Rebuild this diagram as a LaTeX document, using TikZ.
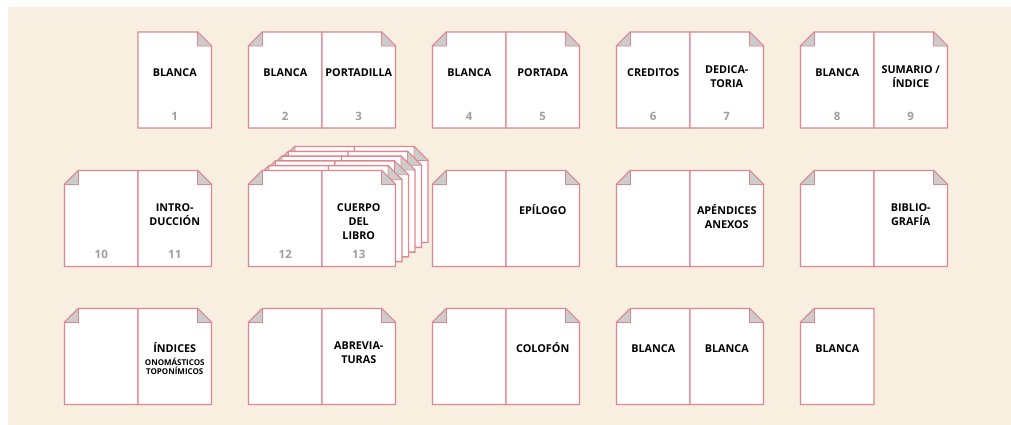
\documentclass[tikz,border=0pt]{standalone}
\usepackage{fontspec}
\setmainfont{Open Sans}
\usetikzlibrary{positioning}

\definecolor{paper}{RGB}{248,239,224}
\definecolor{edge}{RGB}{224,134,143}
\definecolor{flap}{RGB}{204,204,204}
\definecolor{numgray}{RGB}{158,158,158}

\tikzset{
	sheet/.style={fill=white, draw=edge, line width=1.1pt},
	fold/.style={fill=flap, draw=edge, line width=0.5pt},
	title/.style={anchor=north, inner sep=0pt, align=center,
		font=\bfseries\fontsize{8.1}{10.5}\selectfont,
		execute at begin node={\rule{0pt}{8pt}}},
	subtitle/.style={anchor=north, inner sep=0pt, align=center,
		font=\bfseries\fontsize{6}{6.75}\selectfont,
		execute at begin node={\rule{0pt}{4.5pt}}},
	pagenum/.style={inner sep=0pt, text=numgray,
		font=\bfseries\fontsize{8.6}{10}\selectfont}
}

% one page, top left corner at (#1,#2), folded corner on the left / right
\newcommand{\pageL}[2]{%
	\draw[sheet] ({#1+14},{#2}) -- ({#1+73.5},{#2}) -- ({#1+73.5},{#2+96}) -- ({#1},{#2+96}) -- ({#1},{#2+14}) -- cycle;
	\draw[fold] ({#1+14},{#2}) -- ({#1+14},{#2+14}) -- ({#1},{#2+14}) -- cycle;}
\newcommand{\pageR}[2]{%
	\draw[sheet] ({#1},{#2}) -- ({#1+59.5},{#2}) -- ({#1+73.5},{#2+14}) -- ({#1+73.5},{#2+96}) -- ({#1},{#2+96}) -- cycle;
	\draw[fold] ({#1+59.5},{#2}) -- ({#1+59.5},{#2+14}) -- ({#1+73.5},{#2+14}) -- cycle;}
\newcommand{\spread}[2]{\pageL{#1}{#2}\pageR{#1+73.5}{#2}}

\begin{document}
\begin{tikzpicture}[x=0.75pt, y=-0.75pt]
	\useasboundingbox (0,0) rectangle (1011,425);
	\fill[white] (0,0) rectangle (1011,425);
	\fill[paper] (8,7) rectangle (1011,425);

	% Pages for row 1
	\pageR{138}{32}
	\spread{248.5}{32}
	\spread{432.5}{32}
	\spread{616.5}{32}
	\spread{800.5}{32}

	% Pages for row 2 (stack behind 12-13)
	\spread{64.5}{170.5}
	\foreach \k in {5,...,1} {\spread{248.5+6.5*\k}{170.5-4.8*\k}}
	\spread{248.5}{170.5}
	\spread{432.5}{170.5}
	\spread{616.5}{170.5}
	\spread{800.5}{170.5}

	% Pages for row 3
	\spread{64.5}{308.5}
	\spread{248.5}{308.5}
	\spread{432.5}{308.5}
	\spread{616.5}{308.5}
	\pageL{800.5}{308.5}

	% Labels for row 1
	\node[title] (t1) at (174.75,65.3) {BLANCA};
	\node[title] (t2) at (285.25,65.3) {BLANCA};
	\node[title] (t3) at (358.75,65.3) {PORTADILLA};
	\node[title] (t4) at (469.25,65.3) {BLANCA};
	\node[title] (t5) at (542.75,65.3) {PORTADA};
	\node[title] (t6) at (653.25,65.3) {CREDITOS};
	\node[title] (t7) at (726.75,65.3) {DEDICA-\\TORIA};
	\node[title] (t8) at (837.25,65.3) {BLANCA};
	\node[title] (t9) at (910.75,65.3) {SUMARIO /\\ÍNDICE};

	% Labels for row 2
	\node[title] (t11) at (174.75,203.8) {INTRO-\\DUCCIÓN};
	\node[title] (t13) at (358.75,203.8) {CUERPO\\DEL\\LIBRO};
	\node[title] (t15) at (542.75,203.8) {EPÍLOGO};
	\node[title] (t17) at (726.75,203.8) {APÉNDICES\\ANEXOS};
	\node[title] (t19) at (910.75,203.8) {BIBLIO-\\GRAFÍA};

	% Labels for row 3
	\node[title] (t21) at (174.75,341.8) {ÍNDICES};
	\node[subtitle] (t21b) at (174.75,358) {ONOMÁSTICOS\\TOPONÍMICOS};
	\node[title] (t23) at (358.75,341.8) {ABREVIA-\\TURAS};
	\node[title] (t25) at (542.75,341.8) {COLOFÓN};
	\node[title] (t26) at (653.25,341.8) {BLANCA};
	\node[title] (t27) at (726.75,341.8) {BLANCA};
	\node[title] (t28) at (837.25,341.8) {BLANCA};

	% Page numbers
	\node[pagenum] (n1) at (174.75,116) {1};
	\node[pagenum] (n2) at (285.25,116) {2};
	\node[pagenum] (n3) at (358.75,116) {3};
	\node[pagenum] (n4) at (469.25,116) {4};
	\node[pagenum] (n5) at (542.75,116) {5};
	\node[pagenum] (n6) at (653.25,116) {6};
	\node[pagenum] (n7) at (726.75,116) {7};
	\node[pagenum] (n8) at (837.25,116) {8};
	\node[pagenum] (n9) at (910.75,116) {9};
	\node[pagenum] (n10) at (101.25,254.5) {10};
	\node[pagenum] (n11) at (174.75,254.5) {11};
	\node[pagenum] (n12) at (285.25,254.5) {12};
	\node[pagenum] (n13) at (358.75,254.5) {13};
\end{tikzpicture}
\end{document}
